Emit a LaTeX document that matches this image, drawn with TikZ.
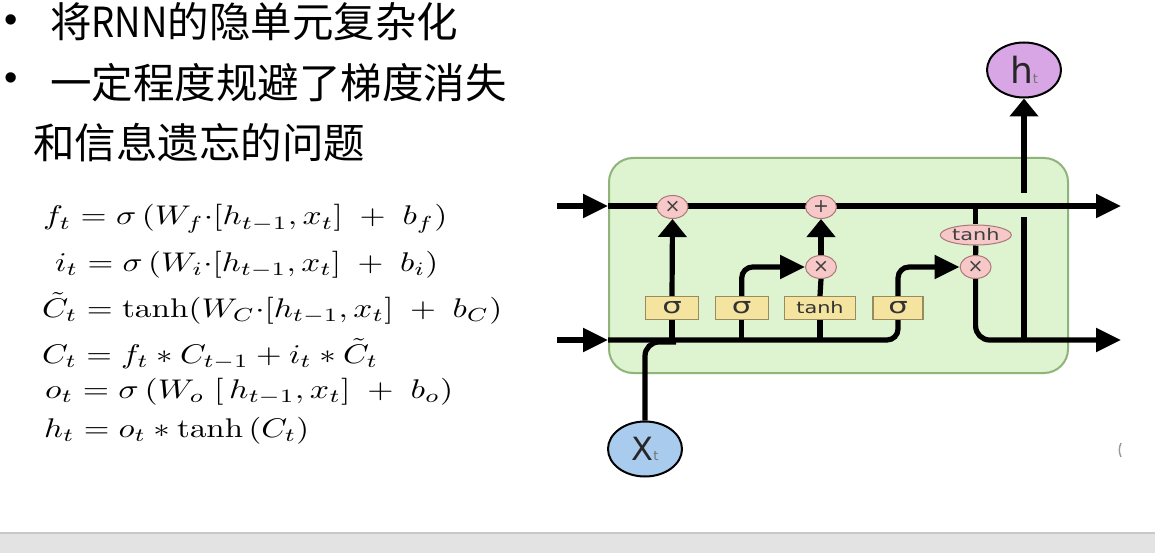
\documentclass[tikz,border=0pt]{standalone}
\usepackage{fontspec}
\usepackage{graphicx}
\usetikzlibrary{arrows.meta,shapes.geometric}
\newfontfamily\cjkfont{Noto Sans CJK SC}
\newfontfamily\dvs{DejaVu Sans}
\newfontfamily\lsans{Liberation Sans}
\definecolor{cellfill}{RGB}{222,243,207}
\definecolor{celldraw}{RGB}{143,180,122}
\definecolor{gatefill}{RGB}{245,228,160}
\definecolor{gatedraw}{RGB}{150,140,95}
\definecolor{opfill}{RGB}{247,200,200}
\definecolor{opdraw}{RGB}{170,120,120}
\definecolor{hfill}{RGB}{216,165,229}
\definecolor{xfill}{RGB}{168,203,238}
\definecolor{bandfill}{RGB}{227,227,227}
\definecolor{bandline}{RGB}{200,200,200}
\pgfdeclarelayer{back}
\pgfdeclarelayer{mid}
\pgfsetlayers{back,mid,main}
\newcommand\eqbox[2]{\resizebox{#1}{2.7\height}{$#2$}}
\begin{document}
\begin{tikzpicture}[x=1pt,y=-1pt,
  wire/.style={line width=5.2pt, black},
  harrow/.style={-{Triangle[length=25pt,width=23pt]}},
  varrow/.style={-{Triangle[length=18pt,width=28pt]}},
  gate/.style={draw=gatedraw, fill=gatefill, line width=1.2pt, minimum height=23pt, inner sep=0pt, text=black!80},
  op/.style={ellipse, draw=opdraw, fill=opfill, line width=1pt, minimum width=31pt, minimum height=23pt, inner sep=0pt, font=\dvs\fontsize{19}{19}\selectfont, text=black!75},
  io/.style={ellipse, draw=black, line width=2pt, minimum width=74pt, minimum height=55pt, inner sep=0pt, text=black!85},
  eq/.style={anchor=base west, inner sep=0pt},
  cjk/.style={anchor=base west, inner sep=0pt, font=\cjkfont\fontsize{41.5}{41.5}\selectfont},
  bullet/.style={inner sep=0pt, font=\lsans\fontsize{38}{38}\selectfont},
  sig/.style={font=\dvs\fontsize{22}{22}\selectfont},
  tnh/.style={font=\dvs\fontsize{16}{16}\selectfont}
]
\useasboundingbox (0,0) rectangle (1155,553);

\begin{pgfonlayer}{back}
\fill[white] (0,0) rectangle (1155,553);
\fill[bandfill] (0,533) rectangle (1155,553);
\draw[bandline, line width=1.2pt] (0,533) -- (1155,533);
\node[draw=celldraw, fill=cellfill, line width=2pt, rounded corners=24pt, minimum width=459pt, minimum height=215pt] (cell) at (838.5,265.5) {};
\end{pgfonlayer}

% text block
\node[bullet] (b1) at (11,24) {•};
\node[bullet] (b2) at (11,82) {•};
\node[cjk] (l1) at (50,38) {将\scalebox{0.88}[1]{RNN}的隐单元复杂化};
\node[cjk] (l2) at (50,99) {一定程度规避了梯度消失};
\node[cjk] (l3) at (33,159) {和信息遗忘的问题};

% equations
\node[eq] (e1) at (43,225) {\eqbox{404pt}{f_t = \sigma\,(W_f{\cdot}[h_{t-1},x_t]\;+\;b_f)}};
\node[eq] (e2) at (55,271) {\eqbox{383pt}{i_t = \sigma\,(W_i{\cdot}[h_{t-1},x_t]\;+\;b_i)}};
\node[eq] (e3) at (42,317) {\eqbox{460pt}{\tilde{C}_t = \tanh(W_C{\cdot}[h_{t-1},x_t]\;+\;b_C)}};
\node[eq] (e4) at (42,363) {\eqbox{336pt}{C_t = f_t * C_{t-1} + i_t * \tilde{C}_t}};
\node[eq] (e5) at (45,398) {\eqbox{408pt}{o_t = \sigma\,(W_o\;[\,h_{t-1},x_t]\;+\;b_o)}};
\node[eq] (e6) at (44,437) {\eqbox{265pt}{h_t = o_t * \tanh\,(C_t)}};

\node[gate, sig, minimum width=53pt] (s1) at (672,308) {\scalebox{1.4}[1]{σ}};
\node[gate, sig, minimum width=53pt] (s2) at (741.7,308) {\scalebox{1.4}[1]{σ}};
\node[gate, tnh, minimum width=71pt] (tb) at (820,308) {\scalebox{1.3}[1]{tanh}};
\node[gate, sig, minimum width=50pt] (s4) at (898,308) {\scalebox{1.4}[1]{σ}};

\node[op] (m1) at (672.5,207) {×};
\node[op] (p1) at (821,207) {+};
\node[op] (m2) at (821,267) {×};
\node[op] (m3) at (975.6,267) {×};
\node[op, minimum width=71pt, minimum height=20pt, tnh] (th) at (975.8,235) {\scalebox{1.3}[1]{tanh}};

\node[io, fill=hfill] (ht) at (1024,70) {\dvs\fontsize{36}{36}\selectfont h\fontsize{13}{13}\selectfont\textcolor{black!55}{t}};
\node[io, fill=xfill] (xt) at (645,449) {\dvs\fontsize{32}{32}\selectfont X\fontsize{13}{13}\selectfont\textcolor{black!55}{t}};

\coordinate (tinL) at (557,206);
\coordinate (tinR) at (608,206);
\coordinate (toutR) at (1121,206);
\coordinate (binL) at (557,340);
\coordinate (binR) at (608,340);
\coordinate (boutR) at (1121,340);
\coordinate (xj) at (676,342);
\coordinate (hgapT) at (1024,193);
\coordinate (hgapB) at (1024,217);
\coordinate (hbot) at (1024,340);

\begin{pgfonlayer}{mid}
\draw[wire,harrow] (tinL) -- (tinR);
\draw[wire,harrow] (tinR) -- (toutR);
\draw[wire,harrow] (binL) -- (binR);
\draw[wire,rounded corners=11pt] (binR) -- (s4.south |- binR) -- (s4.south);
\draw[wire] (s1.south) -- (s1.south |- binR);
\draw[wire] (s2.south) -- (s2.south |- binR);
\draw[wire] (tb.south) -- (tb.south |- binR);
\draw[wire,rounded corners=14pt] (xt.north) -- (xt.north |- xj) -- (xj);
\draw[wire,varrow] (s1.north) -- (m1.south);
\draw[wire] (tb.north) -- (m2.south);
\draw[wire,varrow] (m2.north) -- (p1.south);
\draw[wire,harrow,rounded corners=11pt] (s2.north) -- (s2.north |- m2) -- (m2.west);
\draw[wire,harrow,rounded corners=11pt] (s4.north) -- (s4.north |- m3) -- (m3.west);
\draw[wire] (th.north |- tinR) -- (th.north);
\draw[wire] (th.south) -- (m3.north);
\draw[wire,harrow,rounded corners=14pt] (m3.south) -- (m3.south |- boutR) -- (boutR);
\draw[wire] (hbot) -- (hgapB);
\draw[wire,varrow] (hgapT) -- (ht.south);
\end{pgfonlayer}

\draw[black!40, line width=1.4pt] (1121,443) to[bend right=25] (1121,457);
\end{tikzpicture}
\end{document}
